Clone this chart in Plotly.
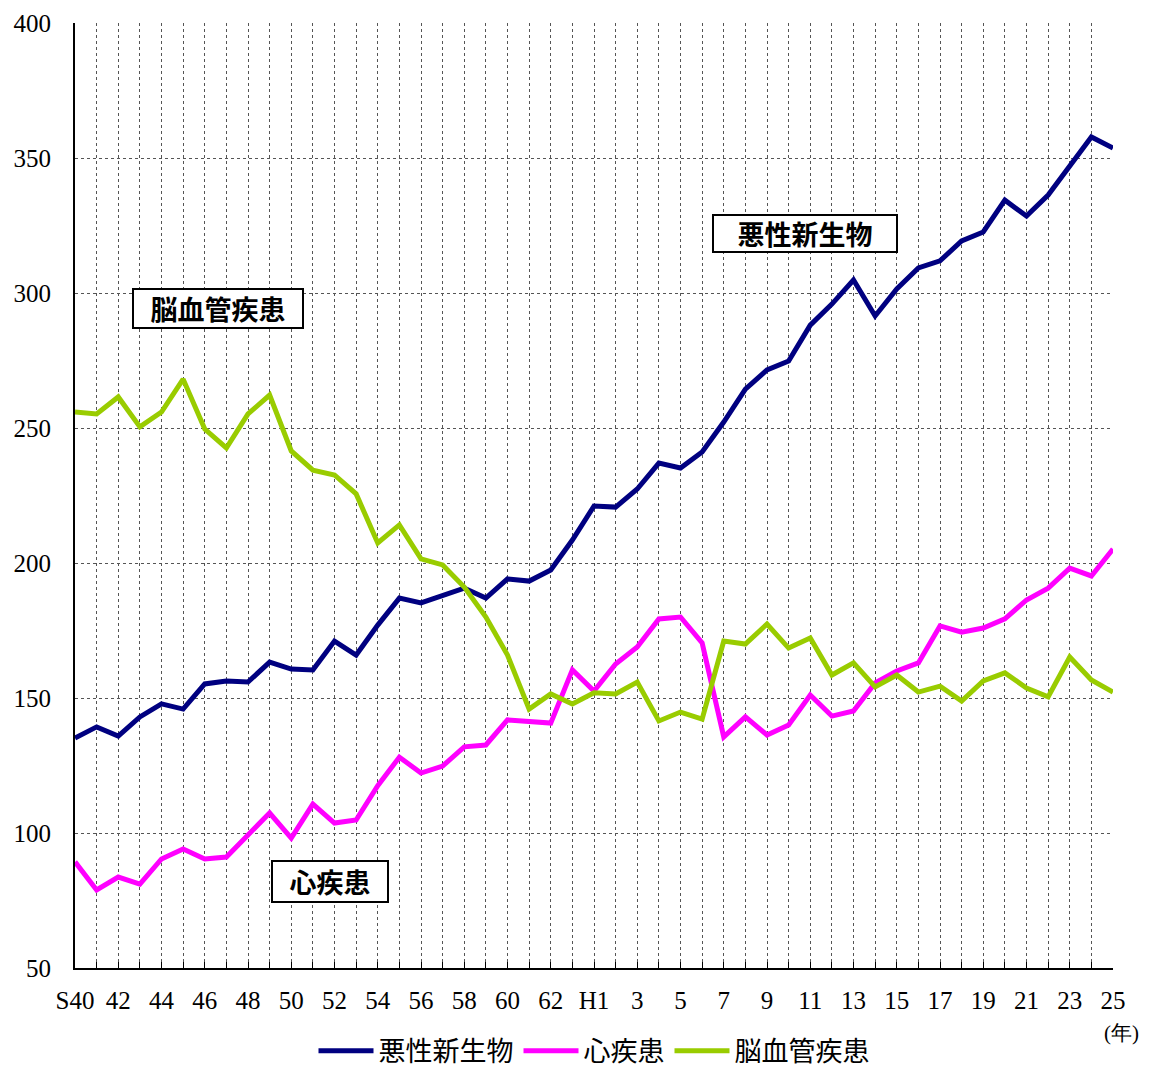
import plotly.graph_objects as go

years = ["S40","41","42","43","44","45","46","47","48","49","50","51","52","53","54","55","56","57","58","59",
         "60","61","62","63","H1","2","3","4","5","6","7","8","9","10","11","12","13","14","15","16","17","18",
         "19","20","21","22","23","24","25"]

cancer = [135.2,139.3,135.9,143.0,147.8,145.9,155.2,156.3,155.9,163.3,160.7,160.4,171.1,165.9,177.0,187.0,185.2,188.1,190.7,187.0,
          194.1,193.3,197.4,208.5,221.1,220.7,227.4,237.0,235.2,241.1,252.2,264.4,271.5,274.8,288.1,295.9,304.8,291.5,301.5,309.3,
          311.9,319.3,322.6,334.4,328.5,336.3,347.0,357.8,353.7]
heart = [89.3,78.9,83.7,81.1,90.4,94.1,90.4,91.1,99.3,107.4,98.1,110.7,103.7,104.8,117.5,128.1,122.2,124.8,131.9,132.6,
         141.9,141.1,140.7,160.4,152.6,162.6,168.9,179.3,180.0,170.4,135.6,143.0,136.3,140.0,151.1,143.3,145.2,155.6,160.0,163.0,
         176.7,174.4,175.9,179.3,186.3,190.7,198.1,195.2,205.2]
stroke = [255.9,255.2,261.5,250.4,255.9,268.1,249.6,242.6,255.2,262.2,241.5,234.4,232.6,225.6,207.4,214.1,201.5,199.3,191.1,180.0,
          165.9,145.9,151.5,147.8,151.9,151.5,155.9,141.5,144.8,142.2,171.1,170.0,177.4,168.5,172.2,158.5,163.0,154.1,158.5,152.2,
          154.4,148.9,156.3,159.3,153.7,150.4,165.2,156.7,152.2]

names = ["悪性新生物", "心疾患", "脳血管疾患"]
colors = ["#000080", "#FF00FF", "#99CC00"]

xs = list(range(len(years)))
ticktext = [y if i % 2 == 0 else "" for i, y in enumerate(years)]

fig = go.Figure()
for name, vals, col in zip(names, [cancer, heart, stroke], colors):
    fig.add_trace(go.Scatter(x=xs, y=vals, mode="lines", name=name,
                             line=dict(color=col, width=5), hoverinfo="skip"))

# page has an 8px body margin: figure sized/offset accordingly
fig.update_layout(
    width=1141, height=1063,
    margin=dict(l=67, r=36, t=15, b=103, autoexpand=False),
    paper_bgcolor="white", plot_bgcolor="white",
    showlegend=True,
    legend=dict(orientation="h", x=0.5, xanchor="center", y=-0.088, yanchor="middle",
                font=dict(family="Noto Sans CJK JP", size=27, color="black"),
                itemwidth=55, tracegroupgap=0, itemsizing="constant"),
    font=dict(family="Liberation Serif", color="black"),
)

fig.update_xaxes(range=[0, 48], tickvals=xs, ticktext=ticktext, automargin=False,
                 showgrid=True, gridcolor="#555555", griddash="dot", gridwidth=1,
                 showline=True, linecolor="black", linewidth=2,
                 ticks="inside", ticklen=6, tickcolor="black", tickwidth=1,
                 ticklabelstandoff=9,
                 tickfont=dict(family="Liberation Serif", size=25, color="black"),
                 zeroline=False)
fig.update_yaxes(range=[50, 400], dtick=50, tick0=50, automargin=False,
                 showgrid=True, gridcolor="#555555", griddash="dot", gridwidth=1,
                 showline=True, linecolor="black", linewidth=2,
                 ticks="", ticklabelstandoff=17,
                 tickfont=dict(family="Liberation Serif", size=25, color="black"),
                 zeroline=False)

box_font = dict(family="Noto Sans CJK JP", size=27, color="black")
labels = [("悪性新生物", 33.76, 322.2, 180, 33),
          ("脳血管疾患", 6.61, 294.4, 166, 35),
          ("心疾患", 11.79, 82.2, 112, 37)]
for txt, ax, ay, w, h in labels:
    fig.add_annotation(x=ax, y=ay, xref="x", yref="y", text="<b>" + txt + "</b>", showarrow=False,
                       font=box_font, bgcolor="white", bordercolor="black",
                       borderwidth=2, borderpad=1, width=w, height=h)

fig.add_annotation(x=1.008, y=-0.0688, xref="paper", yref="paper", text="(年)",
                   xanchor="center", yanchor="middle",
                   showarrow=False, font=dict(family="Liberation Serif", size=21, color="black"))

fig.write_html("out.html")
